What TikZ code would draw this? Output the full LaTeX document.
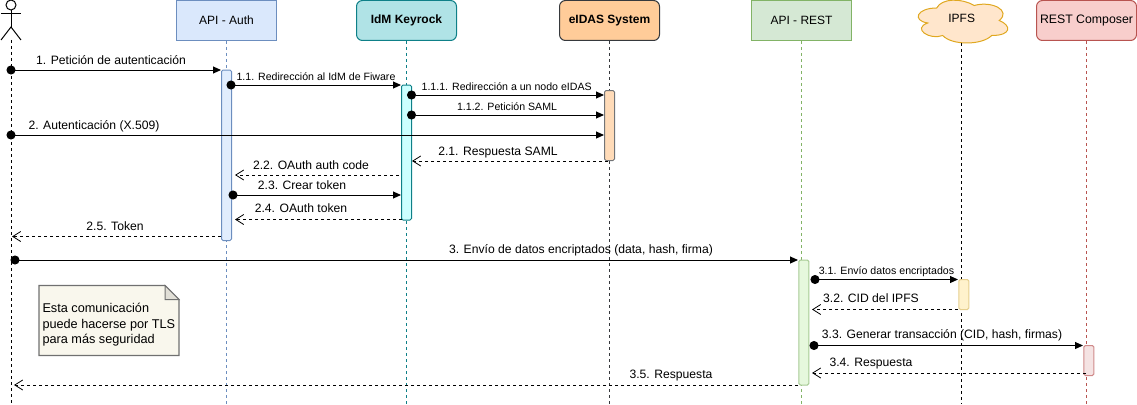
\documentclass[tikz,border=0pt]{standalone}
\usepackage{fontspec}
\setmainfont{Liberation Sans}
\usetikzlibrary{arrows.meta}
\definecolor{authfill}{HTML}{DAE8FC}
\definecolor{authline}{HTML}{6C8EBF}
\definecolor{keyfill}{HTML}{B0E3E6}
\definecolor{keyline}{HTML}{0E8088}
\definecolor{eidasfill}{HTML}{FFCC99}
\definecolor{eidasline}{HTML}{36393D}
\definecolor{restfill}{HTML}{D5E8D4}
\definecolor{restline}{HTML}{82B366}
\definecolor{ipfsfill}{HTML}{FFE6CC}
\definecolor{ipfsline}{HTML}{E0A820}
\definecolor{compfill}{HTML}{F8CECC}
\definecolor{compline}{HTML}{B85450}
\definecolor{notefill}{HTML}{F9F7ED}
\definecolor{noteline}{HTML}{707070}
\begin{document}
\begin{tikzpicture}[
    x=1pt, y=-1pt,
    line width=1pt,
    head/.style={draw, minimum width=100pt, minimum height=40pt, inner sep=0pt, font=\fontsize{12}{14}\selectfont},
    roundhead/.style={head, rounded corners=6pt},
    bar/.style={draw, minimum width=10pt, inner sep=0pt, rounded corners=1.5pt},
    lifeline/.style={dash pattern=on 3pt off 3pt},
    msg/.style={{Circle[length=9pt,width=9pt]}-{Triangle[length=8pt,width=7pt]}, shorten <=-4.5pt},
    reply/.style={-{Straight Barb[length=8pt,width=10pt,line width=0.8pt]}, dash pattern=on 3pt off 3pt},
    lbl/.style={inner sep=0pt, yshift=-1pt, text height=9pt, text depth=2.5pt, font=\fontsize{12.15}{14}\selectfont},
    smalllbl/.style={lbl, font=\fontsize{10.6}{13}\selectfont}
]
    \useasboundingbox (0,0) rectangle (1137,404);

    % Actor
    \draw (11,5) circle (5);
    \draw (1,14) -- (21,14);
    \draw (11,10) -- (11,27);
    \draw (1,40) -- (11,27) -- (21,40);
    \coordinate (actorfoot) at (11,40);

    % Lifeline heads
    \node[head, fill=authfill, draw=authline] (auth) at (226.5,20.5) {API - Auth};
    \node[roundhead, fill=keyfill, draw=keyline, font=\fontsize{12}{14}\selectfont\bfseries] (keyrock) at (406.5,20.5) {IdM Keyrock};
    \node[roundhead, fill=eidasfill, draw=eidasline, font=\fontsize{12}{14}\selectfont\bfseries] (eidas) at (609.5,20.5) {eIDAS System};
    \node[head, fill=restfill, draw=restline] (rest) at (801.5,20.5) {API - REST};
    \node[roundhead, fill=compfill, draw=compline, font=\fontsize{12.3}{14}\selectfont] (composer) at (1086.5,20.5) {REST Composer};

    % Cloud of IPFS, w=100 h=50
    \draw[fill=ipfsfill, draw=ipfsline, shift={(911.7,-4.5)}]
        (25,12.5) .. controls (5,12.5) and (0,25) .. (16,27.5)
        .. controls (0,33) and (18,45) .. (31,40)
        .. controls (40,50) and (70,50) .. (80,40)
        .. controls (100,40) and (100,30) .. (87.5,25)
        .. controls (100,15) and (80,5) .. (62.5,10)
        .. controls (50,2.5) and (30,2.5) .. (25,12.5) -- cycle;
    \node[font=\fontsize{12}{14}\selectfont, inner sep=0pt] (ipfs) at (961.7,18.5) {IPFS};
    \coordinate (ipfsbase) at (961.7,43);

    % Lifelines
    \coordinate (actorend) at (11,404);
    \coordinate (authend) at (226.5,404);
    \coordinate (keyrockend) at (406.5,404);
    \coordinate (eidasend) at (609.5,404);
    \coordinate (restend) at (801.5,404);
    \coordinate (ipfsend) at (961.7,404);
    \coordinate (composerend) at (1086.5,404);
    \draw[lifeline] (actorfoot) -- (actorend);
    \draw[lifeline, authline] (auth.south) -- (authend);
    \draw[lifeline, keyline] (keyrock.south) -- (keyrockend);
    \draw[lifeline, eidasline] (eidas.south) -- (eidasend);
    \draw[lifeline, restline] (rest.south) -- (restend);
    \draw[lifeline] (ipfsbase) -- (ipfsend);
    \draw[lifeline, compline] (composer.south) -- (composerend);

    % Activation bars
    \node[bar, fill=authfill!80!white, draw=authline, minimum height=170.5pt] (barauth) at (226.5,155.25) {};
    \node[bar, fill={rgb,255:red,204;green,255;blue,255}, draw=keyline, minimum height=135pt] (barkey) at (406.5,152.5) {};
    \node[bar, fill=eidasfill!70!white, draw=eidasline!70!white, minimum height=70pt] (bareidas) at (609.5,125.5) {};
    \node[bar, fill={rgb,255:red,230;green,248;blue,221}, draw=restline!70!white, minimum height=125pt] (barrest) at (803.8,322.5) {};
    \node[bar, fill={rgb,255:red,255;green,242;blue,204}, draw={rgb,255:red,230;green,207;blue,143}, minimum height=30pt] (baripfs) at (963.8,294.5) {};
    \node[bar, fill={rgb,255:red,245;green,227;blue,227}, draw={rgb,255:red,208;green,138;blue,138}, minimum height=30pt] (barcomp) at (1088.8,360.5) {};

    % Messages 1.x
    \coordinate (a1) at (11,70);
    \coordinate (b1) at (221,70);
    \draw[msg] (a1) -- (b1);
    \node[lbl] (t1) at (111,60) {1. Petición de autenticación};
    \coordinate (a11) at (231,85);
    \coordinate (b11) at (401,85);
    \draw[msg] (a11) -- (b11);
    \node[smalllbl] (t11) at (316,76) {1.1. Redirección al IdM de Fiware};
    \coordinate (a111) at (411.5,95);
    \coordinate (b111) at (604,95);
    \draw[msg] (a111) -- (b111);
    \node[smalllbl] (t111) at (506.7,86) {1.1.1. Redirección a un nodo eIDAS};
    \coordinate (a112) at (411.5,115);
    \coordinate (b112) at (604,115);
    \draw[msg] (a112) -- (b112);
    \node[smalllbl] (t112) at (507,106) {1.1.2. Petición SAML};

    % Messages 2.x
    \coordinate (a2) at (11,135);
    \coordinate (b2) at (604,135);
    \draw[msg] (a2) -- (b2);
    \node[lbl] (t2) at (94,125) {2. Autenticación (X.509)};
    \coordinate (a21) at (608,161);
    \coordinate (b21) at (412,161);
    \draw[reply] (a21) -- (b21);
    \node[lbl] (t21) at (498,151) {2.1. Respuesta SAML};
    \coordinate (a22) at (399,175);
    \coordinate (b22) at (235,175);
    \draw[reply] (a22) -- (b22);
    \node[lbl] (t22) at (311,165) {2.2. OAuth auth code};
    \coordinate (a23) at (233,195);
    \coordinate (b23) at (401,195);
    \draw[msg] (a23) -- (b23);
    \node[lbl] (t23) at (302,185) {2.3. Crear token};
    \coordinate (a24) at (402,219.5);
    \coordinate (b24) at (235,219.5);
    \draw[reply] (a24) -- (b24);
    \node[lbl] (t24) at (301,208) {2.4. OAuth token};
    \coordinate (a25) at (221,236.5);
    \coordinate (b25) at (12,236.5);
    \draw[reply] (a25) -- (b25);
    \node[lbl] (t25) at (115,226) {2.5. Token};

    % Messages 3.x
    \coordinate (a3) at (15,260);
    \coordinate (b3) at (798,260);
    \draw[msg] (a3) -- (b3);
    \node[lbl] (t3) at (581,249) {3. Envío de datos encriptados (data, hash, firma)};
    \coordinate (a31) at (815,279.5);
    \coordinate (b31) at (958,279.5);
    \draw[msg] (a31) -- (b31);
    \node[smalllbl] (t31) at (886.5,270) {3.1. Envío datos encriptados};
    \coordinate (a32) at (958,309.5);
    \coordinate (b32) at (812,309.5);
    \draw[reply] (a32) -- (b32);
    \node[lbl] (t32) at (871,298) {3.2. CID del IPFS};
    \coordinate (a33) at (814,345.5);
    \coordinate (b33) at (1083,345.5);
    \draw[msg] (a33) -- (b33);
    \node[lbl] (t33) at (942,334) {3.3. Generar transacción (CID, hash, firmas)};
    \coordinate (a34) at (1086,373);
    \coordinate (b34) at (812,373);
    \draw[reply] (a34) -- (b34);
    \node[lbl] (t34) at (871,362) {3.4. Respuesta};
    \coordinate (a35) at (798,385);
    \coordinate (b35) at (14,385);
    \draw[reply] (a35) -- (b35);
    \node[lbl] (t35) at (671,374) {3.5. Respuesta};

    % Note
    \draw[fill=notefill, draw=noteline, line width=1.2pt] (39,285.5) -- (165,285.5) -- (179,299.5) -- (179,355.5) -- (39,355.5) -- cycle;
    \draw[fill=notefill!80!gray, draw=noteline] (165,285.5) -- (165,299.5) -- (179,299.5) -- cycle;
    \node[anchor=west, align=left, inner sep=0pt, font=\fontsize{12.7}{15.5}\selectfont] (notetext) at (42,325) {Esta comunicación\\puede hacerse por TLS\\para más seguridad};

\end{tikzpicture}
\end{document}
